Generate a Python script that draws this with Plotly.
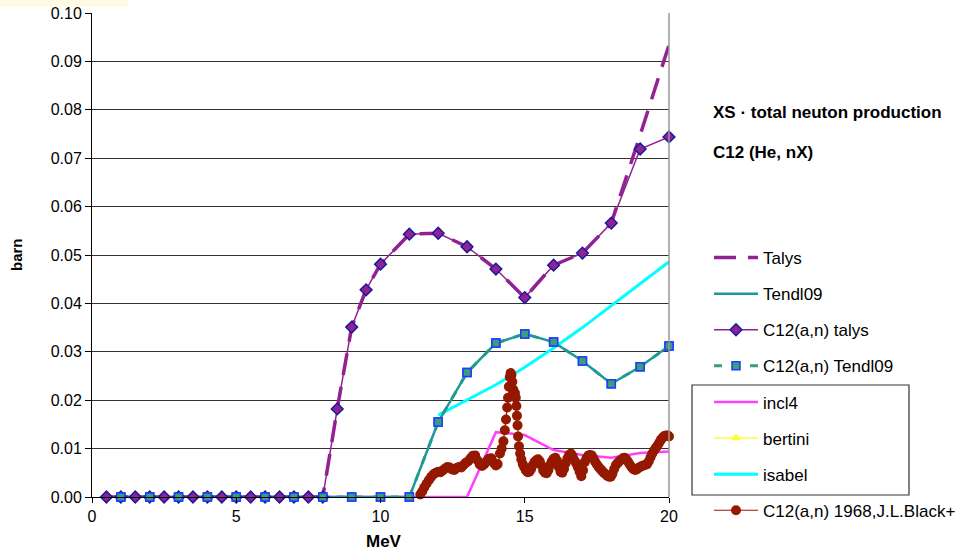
import plotly.graph_objects as go

# ---------------- data ----------------
# Talys model curve (dashed)
talys_x = [0.5, 1, 1.5, 2, 2.5, 3, 3.5, 4, 4.5, 5, 5.5, 6, 6.5, 7, 7.5, 8, 8.5, 9, 9.5, 10,
           11, 12, 13, 14, 15, 16, 17, 18, 19, 20]
talys_y = [0, 0, 0, 0, 0, 0, 0, 0, 0, 0, 0, 0, 0, 0, 0, 0, 0.0182, 0.0351, 0.0428, 0.0481,
           0.0543, 0.0545, 0.0517, 0.0471, 0.0412, 0.0479, 0.0504, 0.0566, 0.0748, 0.0934]

# C12(a,n) talys (diamonds)
c12_talys_x = [0.5, 1, 1.5, 2, 2.5, 3, 3.5, 4, 4.5, 5, 5.5, 6, 6.5, 7, 7.5, 8, 8.5, 9, 9.5, 10,
               11, 12, 13, 14, 15, 16, 17, 18, 19, 20]
c12_talys_y = [0, 0, 0, 0, 0, 0, 0, 0, 0, 0, 0, 0, 0, 0, 0, 0, 0.0182, 0.0351, 0.0428, 0.0481,
               0.0543, 0.0545, 0.0517, 0.0471, 0.0412, 0.0479, 0.0504, 0.0566, 0.0719, 0.0744]

# Tendl09 (solid) and C12(a,n) Tendl09 (squares)
tendl_x = [1, 2, 3, 4, 5, 6, 7, 8, 9, 10, 11, 12, 13, 14, 15, 16, 17, 18, 19, 20]
tendl_y = [0, 0, 0, 0, 0, 0, 0, 0, 0, 0, 0, 0.0155, 0.0257, 0.0318, 0.0337, 0.0320, 0.0281,
           0.0234, 0.0269, 0.0312]
c12_tendl_x = [1, 2, 3, 4, 5, 6, 7, 8, 9, 10, 11, 12, 13, 14, 15, 16, 17, 18, 19, 20]
c12_tendl_y = [0, 0, 0, 0, 0, 0, 0, 0, 0, 0, 0, 0.0155, 0.0257, 0.0318, 0.0337, 0.0320, 0.0281,
               0.0234, 0.0269, 0.0312]

# incl4
incl4_x = [1, 2, 3, 4, 5, 6, 7, 8, 9, 10, 11, 12, 13, 14, 15, 16, 17, 18, 19, 20]
incl4_y = [0, 0, 0, 0, 0, 0, 0, 0, 0, 0, 0, 0, 0, 0.0134, 0.0128, 0.0097, 0.0087, 0.0081,
           0.0091, 0.0094]

# bertini (no visible points)
bertini_x = [None]
bertini_y = [None]

# isabel
isabel_x = [12, 13, 14, 15, 16, 17, 18, 19, 20]
isabel_y = [0.0169, 0.0200, 0.0232, 0.0268, 0.0308, 0.0350, 0.0395, 0.0440, 0.0486]

# C12(a,n) 1968, J.L.Black+ (experimental)
exp_x = [11.38, 11.45, 11.52, 11.60, 11.68, 11.76, 11.84, 11.92, 12.00, 12.08, 12.16, 12.24,
         12.32, 12.40, 12.48, 12.56, 12.64, 12.72, 12.80, 12.88, 12.96, 13.04, 13.12, 13.20,
         13.28, 13.36, 13.44, 13.52, 13.60, 13.68, 13.76, 13.84, 13.92, 14.00, 14.06, 14.14,
         14.20, 14.26, 14.31, 14.35, 14.39, 14.42, 14.45, 14.48, 14.51, 14.54, 14.57, 14.60,
         14.63, 14.66, 14.69, 14.71, 14.73, 14.75, 14.77, 14.80, 14.84, 14.88, 14.93, 14.98,
         15.04, 15.10, 15.16, 15.22, 15.28, 15.34, 15.40, 15.46, 15.52, 15.58, 15.64, 15.70,
         15.76, 15.82, 15.88, 15.94, 16.00, 16.06, 16.12, 16.18, 16.24, 16.30, 16.36, 16.42,
         16.48, 16.54, 16.60, 16.66, 16.72, 16.78, 16.84, 16.90, 16.96, 17.02, 17.08, 17.14,
         17.20, 17.26, 17.32, 17.38, 17.44, 17.50, 17.56, 17.62, 17.68, 17.74, 17.80, 17.86,
         17.92, 17.98, 18.04, 18.10, 18.16, 18.22, 18.28, 18.34, 18.40, 18.46, 18.52, 18.58,
         18.64, 18.70, 18.76, 18.82, 18.88, 18.94, 19.00, 19.06, 19.12, 19.18, 19.24, 19.30,
         19.36, 19.42, 19.48, 19.54, 19.60, 19.66, 19.72, 19.78, 19.84, 19.90, 19.96, 20.00]
exp_y = [0.0005, 0.0012, 0.0020, 0.0028, 0.0035, 0.0042, 0.0047, 0.0050, 0.0052, 0.0051, 0.0055, 0.0059,
         0.0062, 0.0061, 0.0057, 0.0056, 0.0060, 0.0062, 0.0061, 0.0066, 0.0071, 0.0074, 0.0080, 0.0085,
         0.0086, 0.0076, 0.0067, 0.0064, 0.0068, 0.0074, 0.0079, 0.0080, 0.0071, 0.0065, 0.0068, 0.0090,
         0.0100, 0.0115, 0.0138, 0.0160, 0.0185, 0.0205, 0.0228, 0.0248, 0.0256, 0.0252, 0.0238, 0.0222,
         0.0212, 0.0215, 0.0205, 0.0188, 0.0168, 0.0148, 0.0125, 0.0105, 0.0090, 0.0078, 0.0068, 0.0062,
         0.0055, 0.0051, 0.0052, 0.0058, 0.0066, 0.0072, 0.0076, 0.0078, 0.0074, 0.0065, 0.0055, 0.0050,
         0.0049, 0.0056, 0.0066, 0.0074, 0.0079, 0.0081, 0.0075, 0.0062, 0.0052, 0.0050, 0.0058, 0.0070,
         0.0080, 0.0087, 0.0090, 0.0084, 0.0076, 0.0070, 0.0062, 0.0052, 0.0043, 0.0055, 0.0072, 0.0080,
         0.0085, 0.0087, 0.0086, 0.0080, 0.0073, 0.0067, 0.0062, 0.0058, 0.0054, 0.0050, 0.0047, 0.0044,
         0.0042, 0.0042, 0.0048, 0.0058, 0.0066, 0.0070, 0.0074, 0.0077, 0.0080, 0.0081, 0.0078, 0.0073,
         0.0067, 0.0062, 0.0058, 0.0056, 0.0057, 0.0060, 0.0062, 0.0064, 0.0065, 0.0066, 0.0068, 0.0074,
         0.0082, 0.0090, 0.0096, 0.0101, 0.0106, 0.0112, 0.0118, 0.0123, 0.0126, 0.0127, 0.0127, 0.0125]

x_ticks = [0, 5, 10, 15, 20]
y_ticks = [0.00, 0.01, 0.02, 0.03, 0.04, 0.05, 0.06, 0.07, 0.08, 0.09, 0.10]

# ---------------- figure ----------------
FONT = "Liberation Sans, Arial, sans-serif"
PURPLE = "#922293"
TEAL = "#1E9999"
GREEN = "#3A9E78"
BLUE = "#1E3CFF"
NAVY = "#1A1A9A"
MAGENTA = "#FF40FF"
YELLOW = "#FFFF33"
CYAN = "#00FFFF"
DARKRED = "#951800"

fig = go.Figure()

fig.add_trace(go.Scatter(x=incl4_x, y=incl4_y, name="incl4", mode="lines",
                         line=dict(color=MAGENTA, width=2.5), legendrank=5, legendgroup="g5"))
fig.add_trace(go.Scatter(x=bertini_x, y=bertini_y, name="bertini", mode="lines+markers",
                         line=dict(color=YELLOW, width=1.5),
                         marker=dict(symbol="triangle-up", size=9, color=YELLOW),
                         legendrank=6, legendgroup="g6"))
fig.add_trace(go.Scatter(x=isabel_x, y=isabel_y, name="isabel", mode="lines",
                         line=dict(color=CYAN, width=3), legendrank=7, legendgroup="g7"))
fig.add_trace(go.Scatter(x=talys_x, y=talys_y, name="Talys", mode="lines",
                         line=dict(color=PURPLE, width=3.5, dash="22px,12px"),
                         legendrank=1, legendgroup="g1"))
fig.add_trace(go.Scatter(x=c12_tendl_x, y=c12_tendl_y, name="C12(a,n) Tendl09", mode="lines+markers",
                         line=dict(color=GREEN, width=3, dash="8px,10px"),
                         marker=dict(symbol="square", size=8, color=GREEN,
                                     line=dict(color=BLUE, width=1.5)),
                         legendrank=4, legendgroup="g4", cliponaxis=False))
fig.add_trace(go.Scatter(x=tendl_x, y=tendl_y, name="Tendl09", mode="lines",
                         line=dict(color=TEAL, width=2.5), legendrank=2, legendgroup="g2"))
fig.add_trace(go.Scatter(x=c12_talys_x, y=c12_talys_y, name="C12(a,n) talys", mode="lines+markers",
                         line=dict(color=PURPLE, width=1.5),
                         marker=dict(symbol="diamond", size=9, color=PURPLE,
                                     line=dict(color=NAVY, width=1.5)),
                         legendrank=3, legendgroup="g3", cliponaxis=False))
fig.add_trace(go.Scatter(x=exp_x, y=exp_y, name="C12(a,n) 1968,J.L.Black+", mode="lines+markers",
                         line=dict(color=DARKRED, width=1.2),
                         marker=dict(symbol="circle", size=10, color=DARKRED),
                         legendrank=8, legendgroup="g8", cliponaxis=False))
# square markers redrawn on top of the solid Tendl09 line
fig.add_trace(go.Scatter(x=c12_tendl_x, y=c12_tendl_y, mode="markers", showlegend=False,
                         marker=dict(symbol="square", size=8, color=GREEN,
                                     line=dict(color=BLUE, width=1.5)),
                         cliponaxis=False, hoverinfo="skip"))

L, R, T, B = 92, 669, 13, 497
W, H = 956, 551
pw, ph = R - L, B - T


def px(xp):
    return (xp - L) / pw


def py(yp):
    return (B - yp) / ph


fig.update_layout(
    width=W, height=H,
    margin=dict(l=L, r=W - R, t=T, b=H - B, autoexpand=False),
    paper_bgcolor="white", plot_bgcolor="white",
    font=dict(family=FONT, size=16, color="black"),
    showlegend=True,
    legend=dict(x=px(709), y=py(240), xanchor="left", yanchor="top",
                traceorder="grouped", tracegroupgap=11, itemwidth=44,
                font=dict(family=FONT, size=17, color="black"),
                bgcolor="rgba(0,0,0,0)"),
    xaxis=dict(range=[0, 20], tickvals=x_ticks, ticktext=[str(v) for v in x_ticks],
               showgrid=False, zeroline=False, showline=True, linecolor="black", linewidth=1,
               ticks="outside", ticklen=5, tickcolor="black",
               tickfont=dict(family=FONT, size=16, color="black")),
    yaxis=dict(range=[0, 0.1], tickvals=y_ticks, ticktext=[f"{v:.2f}" for v in y_ticks],
               showgrid=True, gridcolor="#333333", gridwidth=1, zeroline=False,
               showline=True, linecolor="black", linewidth=1,
               ticks="outside", ticklen=6, tickcolor="black",
               tickfont=dict(family=FONT, size=16, color="black")),
    shapes=[
        dict(type="line", xref="paper", yref="paper", x0=1, x1=1, y0=0, y1=1,
             line=dict(color="#999999", width=1.5)),
        dict(type="rect", xref="paper", yref="paper", x0=px(692), x1=px(909), y0=py(495), y1=py(385),
             line=dict(color="#333333", width=1.2), fillcolor="rgba(0,0,0,0)"),
        dict(type="rect", xref="paper", yref="paper", x0=px(0), x1=px(128), y0=py(7), y1=py(0),
             line=dict(width=0), fillcolor="#FFFBE2", layer="below"),
    ],
    annotations=[
        dict(text="<b>XS · total neuton production</b>", xref="paper", yref="paper",
             x=px(711), y=py(113), xanchor="left", yanchor="middle", showarrow=False,
             font=dict(family=FONT, size=17, color="black")),
        dict(text="<b>C12 (He, nX)</b>", xref="paper", yref="paper",
             x=px(711), y=py(152), xanchor="left", yanchor="middle", showarrow=False,
             font=dict(family=FONT, size=17, color="black")),
        dict(text="<b>MeV</b>", xref="paper", yref="paper",
             x=px(384), y=py(541), xanchor="center", yanchor="middle", showarrow=False,
             font=dict(family=FONT, size=17, color="black")),
        dict(text="<b>barn</b>", xref="paper", yref="paper", textangle=-90,
             x=px(16), y=py(255), xanchor="center", yanchor="middle", showarrow=False,
             font=dict(family=FONT, size=15, color="black")),
    ],
)

fig.write_html("out.html")
